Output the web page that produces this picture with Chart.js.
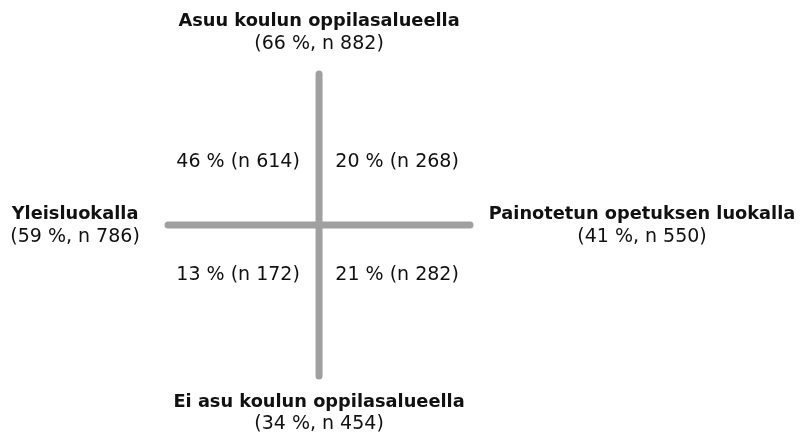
<!DOCTYPE html>
<html>
<head>
<meta charset="utf-8">
<script src="https://cdn.jsdelivr.net/npm/chart.js@4/dist/chart.umd.min.js"></script>
<style>
  html, body { margin: 0; padding: 0; background: #fff; }
  #wrap { width: 801px; height: 436px; }
</style>
</head>
<body>
<div id="wrap"><canvas id="quadChart" width="801" height="436"></canvas></div>
<script>
// rows = vertical axis (top / bottom), cols = horizontal axis (left / right)
const rowGroups = ['Asuu koulun oppilasalueella', 'Ei asu koulun oppilasalueella'];
const rowShares = [66, 34];
const rowCounts = [882, 454];

const colGroups = ['Yleisluokalla', 'Painotetun opetuksen luokalla'];
const colShares = [59, 41];
const colCounts = [786, 550];

// [row][col]
const cellShares = [[46, 20], [13, 21]];
const cellCounts = [[614, 268], [172, 282]];

// axis arms run from -1 to 1 on both scales
const armExtent = [-1, 1];

// label anchors in axis units
const LAYOUT = {
    topY: [1.351, 1.199],
    bottomY: [-1.172, -1.318],
    sideX: [-1.616, 2.139],
    sideY: [0.073, -0.079],
    cellX: [-0.536, 0.517],
    cellY: [0.417, -0.331]
};

const FONT = '"DejaVu Sans", Verdana, sans-serif';

const labelPlugin = {
    id: 'quadLabels',
    afterDatasetsDraw(chart) {
        const { ctx, scales: { x, y } } = chart;
        const px = v => x.getPixelForValue(v);
        const py = v => y.getPixelForValue(v);

        ctx.save();
        ctx.fillStyle = '#111';
        ctx.textAlign = 'center';
        ctx.textBaseline = 'middle';

        const pair = (title, sub, cx, ty, sy) => {
            ctx.font = 'bold 17.8px ' + FONT;
            ctx.fillText(title, cx, ty);
            ctx.font = '19px ' + FONT;
            ctx.fillText(sub, cx, sy);
        };

        // top and bottom groups
        pair(rowGroups[0], `(${rowShares[0]} %, n ${rowCounts[0]})`,
            px(0), py(LAYOUT.topY[0]), py(LAYOUT.topY[1]));
        pair(rowGroups[1], `(${rowShares[1]} %, n ${rowCounts[1]})`,
            px(0), py(LAYOUT.bottomY[0]), py(LAYOUT.bottomY[1]));

        // left and right groups
        colGroups.forEach((g, i) => {
            pair(g, `(${colShares[i]} %, n ${colCounts[i]})`,
                px(LAYOUT.sideX[i]), py(LAYOUT.sideY[0]), py(LAYOUT.sideY[1]));
        });

        // quadrant cells
        ctx.font = '19px ' + FONT;
        cellShares.forEach((row, r) => {
            row.forEach((share, c) => {
                ctx.fillText(`${share} % (n ${cellCounts[r][c]})`,
                    px(LAYOUT.cellX[c]), py(LAYOUT.cellY[r]));
            });
        });
        ctx.restore();
    }
};

const armStyle = {
    borderColor: '#a0a0a0',
    borderWidth: 7,
    borderCapStyle: 'round',
    pointRadius: 0,
    showLine: true,
    fill: false
};

new Chart(document.getElementById('quadChart'), {
    type: 'scatter',
    data: {
        datasets: [
            { ...armStyle, data: armExtent.map(v => ({ x: v, y: 0 })) },
            { ...armStyle, data: armExtent.map(v => ({ x: 0, y: v })) }
        ]
    },
    options: {
        responsive: false,
        animation: false,
        layout: { padding: 0 },
        plugins: {
            legend: { display: false },
            tooltip: { enabled: false }
        },
        scales: {
            x: { type: 'linear', display: false, min: -2.113, max: 3.192 },
            y: { type: 'linear', display: false, min: -1.397, max: 1.490 }
        }
    },
    plugins: [labelPlugin]
});
</script>
</body>
</html>
